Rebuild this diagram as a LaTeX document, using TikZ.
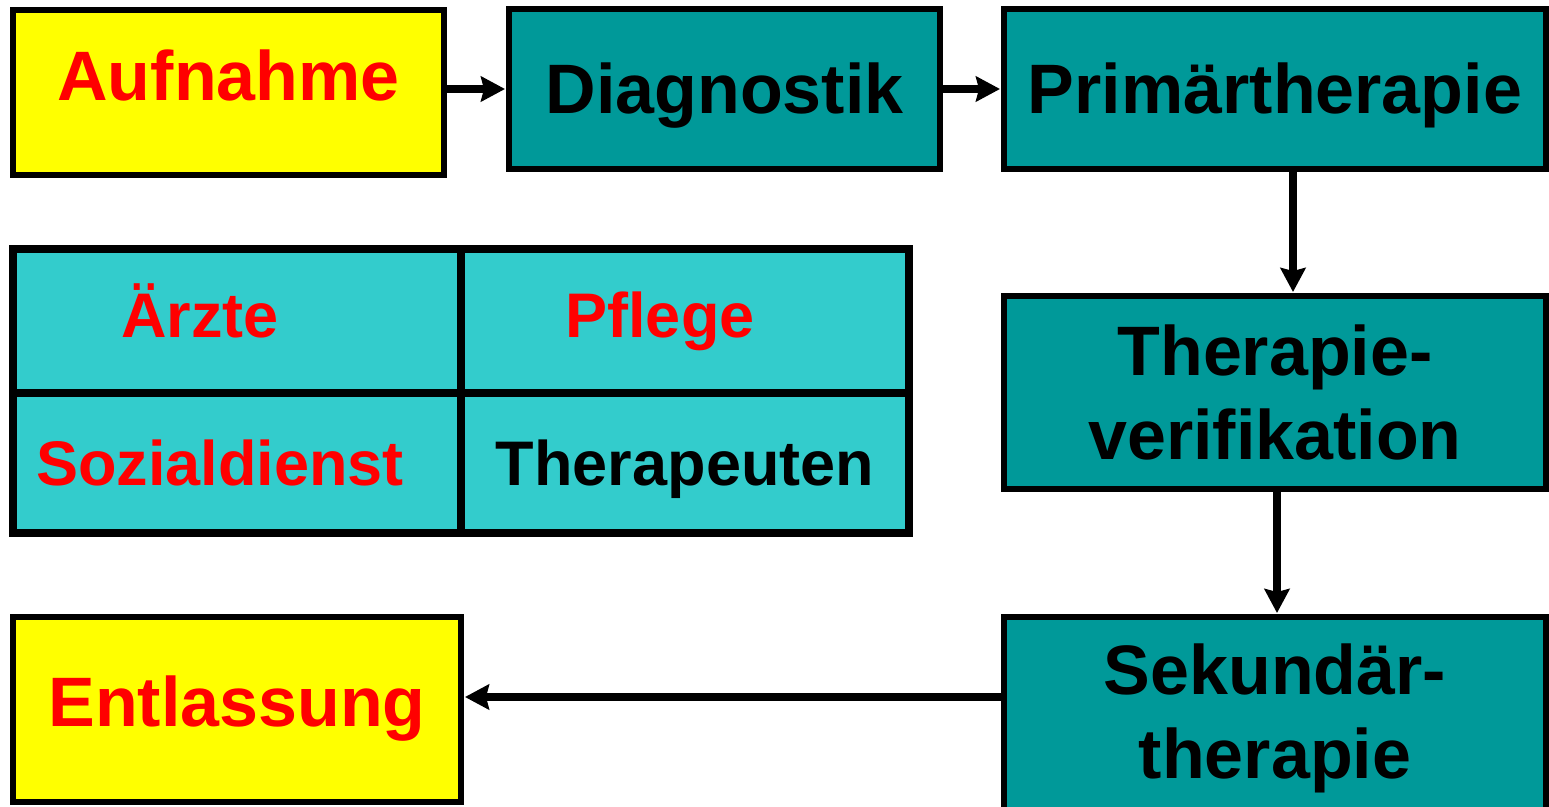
\documentclass[tikz,border=0pt]{standalone}
\usepackage{fontspec}
\setmainfont{Liberation Sans}
\usepackage{tikz}
\usetikzlibrary{arrows.meta, positioning, calc}
\definecolor{petrol}{HTML}{009999}
\definecolor{tuerkis}{HTML}{33CCCC}
\definecolor{gelb}{HTML}{FFFF00}
\definecolor{rot}{HTML}{FF0000}

\begin{document}
\begin{tikzpicture}[x=1pt, y=-1pt, >=Stealth,
    stage/.style={draw, line width=6pt, fill=petrol, inner sep=0pt, align=center, font=\fontsize{70pt}{84pt}\selectfont\bfseries},
    endpoint/.style={stage, fill=gelb, text=rot},
    oneline/.style={text height=48pt, text depth=0pt},
    flow/.style={line width=7.5pt, -{Stealth[length=24pt, width=25pt, inset=3pt]}, shorten >=1pt},
    tablerule/.style={line width=8pt},
    member/.style={anchor=base, font=\fontsize{63pt}{76pt}\selectfont\bfseries}]
    \useasboundingbox (0,0) rectangle (1549,806);

    % Obere Reihe: Aufnahme -> Diagnostik -> Primärtherapie
    \node[endpoint, oneline, text depth=33pt, minimum width=431pt, minimum height=165pt] (aufnahme) at (228.5,92.5) {Aufnahme};
    \node[stage, oneline, minimum width=431pt, minimum height=160pt] (diagnostik) at (724.5,89) {Diagnostik};
    \node[stage, oneline, minimum width=542pt, minimum height=160pt] (primaer) at (1275,89) {Primärtherapie};

    % Rechte Spalte
    \node[stage, minimum width=542pt, minimum height=193pt] (verifikation) at (1275,392.5) {Therapie-\\verifikation};
    \node[stage, minimum width=542pt, minimum height=202pt] (sekundaer) at (1275,718) {Sekundär-\\therapie};

    % Entlassung unten links
    \node[endpoint, oneline, text depth=15pt, minimum width=448pt, minimum height=185pt] (entlassung) at (237,709.5) {Entlassung};

    % Team-Tabelle (2x2)
    \node[draw, line width=8pt, fill=tuerkis, minimum width=896pt, minimum height=284pt] (team) at (461,391) {};
    \draw[tablerule] (team.north) -- (team.south);
    \draw[tablerule] ([yshift=-2pt]team.west) -- ([yshift=-2pt]team.east);
    \node[member, text=rot] (aerzte) at (200,337) {Ärzte};
    \node[member, text=rot] (pflege) at (660,337) {Pflege};
    \node[member, text=rot] (sozialdienst) at (220,485) {Sozialdienst};
    \node[member] (therapeuten) at (685,485) {Therapeuten};

    % Pfeile
    \draw[flow] (aufnahme.east |- diagnostik.west) -- (diagnostik.west);
    \draw[flow] (diagnostik.east) -- (primaer.west);
    \draw[flow] ([xshift=18pt]primaer.south) -- ([xshift=18pt]verifikation.north);
    \draw[flow] ([xshift=2pt]verifikation.south) -- ([xshift=2pt]sekundaer.north);
    \draw[flow] ([yshift=21pt]sekundaer.west) -- ([yshift=21pt]sekundaer.west -| entlassung.east);

\end{tikzpicture}
\end{document}
